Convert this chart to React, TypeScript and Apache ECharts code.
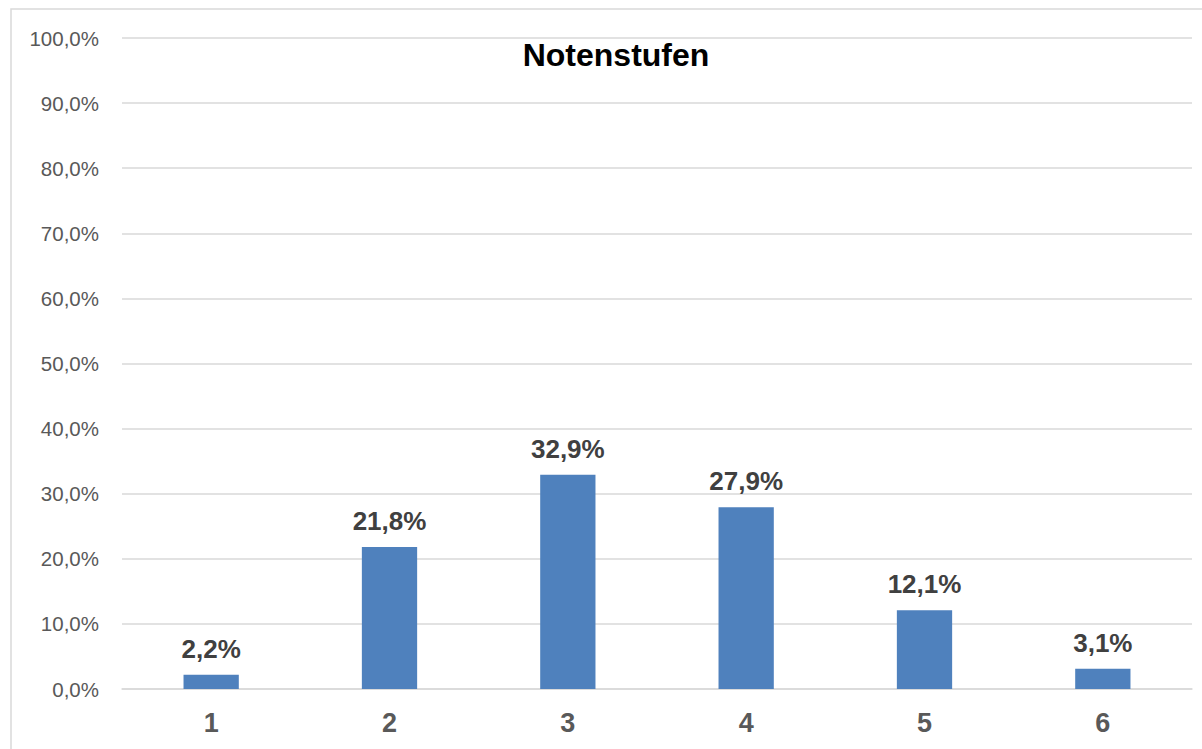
import React, { useEffect, useRef } from "react";
import * as echarts from "echarts";

const categories = ["1", "2", "3", "4", "5", "6"];
const values = [2.2, 21.8, 32.9, 27.9, 12.1, 3.1];
const title = "Notenstufen";

const fmt = (v: number) => v.toFixed(1).replace(".", ",") + "%";

export default function App() {
  const ref = useRef<HTMLDivElement>(null);
  useEffect(() => {
    const chart = echarts.init(ref.current!, null, { renderer: "svg" });
    chart.setOption({
      animation: false,
      backgroundColor: "#ffffff",
      title: {
        text: title,
        left: 611,
        top: 34,
        textAlign: "center",
        textStyle: { fontFamily: "Liberation Sans, Arial", fontSize: 32, fontWeight: "bold", color: "#000000" },
      },
      graphic: [
        {
          type: "rect",
          shape: { x: 11, y: 9, width: 1200, height: 760 },
          style: { fill: "none", stroke: "#d9d9d9", lineWidth: 1.5 },
          silent: true,
        },
      ],
      grid: { left: 122, right: 10, top: 38, bottom: 60, containLabel: false },
      xAxis: {
        type: "category",
        data: categories,
        axisLine: { show: true, lineStyle: { color: "#d9d9d9", width: 1.5 } },
        axisTick: { show: false },
        axisLabel: {
          fontFamily: "Liberation Sans, Arial",
          fontSize: 27,
          fontWeight: "bold",
          color: "#595959",
          margin: 20,
        },
      },
      yAxis: {
        type: "value",
        min: 0,
        max: 100,
        interval: 10,
        axisLine: { show: false },
        axisTick: { show: false },
        splitLine: { lineStyle: { color: "#d9d9d9", width: 1.5 } },
        axisLabel: {
          fontFamily: "Liberation Sans, Arial",
          fontSize: 20.5,
          color: "#595959",
          margin: 23,
          formatter: (v: number) => fmt(v),
        },
      },
      series: [
        {
          type: "bar",
          data: values,
          barWidth: "31%",
          itemStyle: { color: "#4f81bd" },
          label: {
            show: true,
            position: "top",
            distance: 13,
            fontFamily: "Liberation Sans, Arial",
            fontSize: 26,
            fontWeight: "bold",
            color: "#404040",
            formatter: (p: any) => fmt(p.value),
          },
        },
      ],
    });
    return () => chart.dispose();
  }, []);
  return (
    <div
      ref={ref}
      style={{ position: "fixed", left: 0, top: 0, width: 1202, height: 749 }}
    />
  );
}
